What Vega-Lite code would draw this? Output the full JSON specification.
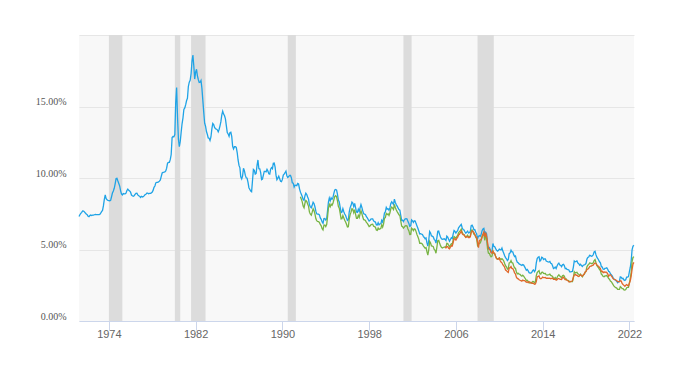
{
"$schema":"https://vega.github.io/schema/vega-lite/v6.json",
"width":555,"height":286,
"autosize":"none",
"padding":{"left":79,"top":35,"right":62,"bottom":53},
"background":"#ffffff",
"config":{"view":{"fill":"#f8f8f8","stroke":null}},
"datasets":{
"rec":[{"s":"1974-01","e":"1975-04"},{"s":"1980-02","e":"1980-08"},{"s":"1981-08","e":"1982-12"},{"s":"1990-07","e":"1991-04"},{"s":"2001-03","e":"2001-12"},{"s":"2008-01","e":"2009-07"}],
"f30":[
{"d":"1971-04","v":7.31},{"d":"1971-05","v":7.43},{"d":"1971-06","v":7.53},{"d":"1971-07","v":7.60},{"d":"1971-08","v":7.70},{"d":"1971-09","v":7.69},{"d":"1971-10","v":7.63},{"d":"1971-11","v":7.55},{"d":"1971-12","v":7.48},
{"d":"1972-01","v":7.44},{"d":"1972-02","v":7.32},{"d":"1972-03","v":7.29},{"d":"1972-04","v":7.37},{"d":"1972-05","v":7.41},{"d":"1972-06","v":7.38},{"d":"1972-07","v":7.40},{"d":"1972-08","v":7.40},{"d":"1972-09","v":7.43},{"d":"1972-10","v":7.45},{"d":"1972-11","v":7.44},{"d":"1972-12","v":7.44},
{"d":"1973-01","v":7.44},{"d":"1973-02","v":7.44},{"d":"1973-03","v":7.46},{"d":"1973-04","v":7.54},{"d":"1973-05","v":7.65},{"d":"1973-06","v":7.73},{"d":"1973-07","v":8.05},{"d":"1973-08","v":8.50},{"d":"1973-09","v":8.82},{"d":"1973-10","v":8.56},{"d":"1973-11","v":8.48},{"d":"1973-12","v":8.44},
{"d":"1974-01","v":8.42},{"d":"1974-02","v":8.40},{"d":"1974-03","v":8.44},{"d":"1974-04","v":8.69},{"d":"1974-05","v":8.95},{"d":"1974-06","v":9.09},{"d":"1974-07","v":9.28},{"d":"1974-08","v":9.59},{"d":"1974-09","v":9.96},{"d":"1974-10","v":9.98},{"d":"1974-11","v":9.79},{"d":"1974-12","v":9.62},
{"d":"1975-01","v":9.43},{"d":"1975-02","v":9.10},{"d":"1975-03","v":8.89},{"d":"1975-04","v":8.82},{"d":"1975-05","v":8.91},{"d":"1975-06","v":8.89},{"d":"1975-07","v":8.89},{"d":"1975-08","v":8.94},{"d":"1975-09","v":9.13},{"d":"1975-10","v":9.22},{"d":"1975-11","v":9.14},{"d":"1975-12","v":9.10},
{"d":"1976-01","v":9.02},{"d":"1976-02","v":8.81},{"d":"1976-03","v":8.76},{"d":"1976-04","v":8.73},{"d":"1976-05","v":8.76},{"d":"1976-06","v":8.85},{"d":"1976-07","v":8.93},{"d":"1976-08","v":8.94},{"d":"1976-09","v":8.82},{"d":"1976-10","v":8.76},{"d":"1976-11","v":8.73},{"d":"1976-12","v":8.64},
{"d":"1977-01","v":8.72},{"d":"1977-02","v":8.67},{"d":"1977-03","v":8.69},{"d":"1977-04","v":8.75},{"d":"1977-05","v":8.83},{"d":"1977-06","v":8.86},{"d":"1977-07","v":8.94},{"d":"1977-08","v":8.94},{"d":"1977-09","v":8.90},{"d":"1977-10","v":8.92},{"d":"1977-11","v":8.92},{"d":"1977-12","v":8.96},
{"d":"1978-01","v":9.02},{"d":"1978-02","v":9.15},{"d":"1978-03","v":9.35},{"d":"1978-04","v":9.44},{"d":"1978-05","v":9.66},{"d":"1978-06","v":9.70},{"d":"1978-07","v":9.70},{"d":"1978-08","v":9.73},{"d":"1978-09","v":9.78},{"d":"1978-10","v":9.86},{"d":"1978-11","v":10.11},{"d":"1978-12","v":10.35},
{"d":"1979-01","v":10.39},{"d":"1979-02","v":10.41},{"d":"1979-03","v":10.43},{"d":"1979-04","v":10.50},{"d":"1979-05","v":10.69},{"d":"1979-06","v":11.04},{"d":"1979-07","v":11.09},{"d":"1979-08","v":11.09},{"d":"1979-09","v":11.30},{"d":"1979-10","v":11.64},{"d":"1979-11","v":12.83},{"d":"1979-12","v":12.90},
{"d":"1980-01","v":12.88},{"d":"1980-02","v":13.04},{"d":"1980-03","v":15.28},{"d":"1980-04","v":16.32},{"d":"1980-05","v":14.26},{"d":"1980-06","v":12.71},{"d":"1980-07","v":12.19},{"d":"1980-08","v":12.56},{"d":"1980-09","v":13.20},{"d":"1980-10","v":13.79},{"d":"1980-11","v":14.21},{"d":"1980-12","v":14.79},
{"d":"1981-01","v":14.90},{"d":"1981-02","v":15.13},{"d":"1981-03","v":15.40},{"d":"1981-04","v":15.58},{"d":"1981-05","v":16.40},{"d":"1981-06","v":16.70},{"d":"1981-07","v":16.83},{"d":"1981-08","v":17.29},{"d":"1981-09","v":18.16},{"d":"1981-10","v":18.60},{"d":"1981-11","v":17.83},{"d":"1981-12","v":16.92},
{"d":"1982-01","v":17.40},{"d":"1982-02","v":17.60},{"d":"1982-03","v":17.16},{"d":"1982-04","v":16.89},{"d":"1982-05","v":16.68},{"d":"1982-06","v":16.70},{"d":"1982-07","v":16.82},{"d":"1982-08","v":16.27},{"d":"1982-09","v":15.43},{"d":"1982-10","v":14.61},{"d":"1982-11","v":13.83},{"d":"1982-12","v":13.62},
{"d":"1983-01","v":13.25},{"d":"1983-02","v":13.04},{"d":"1983-03","v":12.80},{"d":"1983-04","v":12.78},{"d":"1983-05","v":12.63},{"d":"1983-06","v":12.87},{"d":"1983-07","v":13.42},{"d":"1983-08","v":13.81},{"d":"1983-09","v":13.73},{"d":"1983-10","v":13.54},{"d":"1983-11","v":13.44},{"d":"1983-12","v":13.42},
{"d":"1984-01","v":13.37},{"d":"1984-02","v":13.23},{"d":"1984-03","v":13.39},{"d":"1984-04","v":13.65},{"d":"1984-05","v":13.94},{"d":"1984-06","v":14.42},{"d":"1984-07","v":14.67},{"d":"1984-08","v":14.47},{"d":"1984-09","v":14.35},{"d":"1984-10","v":14.13},{"d":"1984-11","v":13.64},{"d":"1984-12","v":13.18},
{"d":"1985-01","v":13.08},{"d":"1985-02","v":12.92},{"d":"1985-03","v":13.17},{"d":"1985-04","v":13.20},{"d":"1985-05","v":12.91},{"d":"1985-06","v":12.22},{"d":"1985-07","v":12.03},{"d":"1985-08","v":12.19},{"d":"1985-09","v":12.19},{"d":"1985-10","v":12.14},{"d":"1985-11","v":11.78},{"d":"1985-12","v":11.26},
{"d":"1986-01","v":10.88},{"d":"1986-02","v":10.71},{"d":"1986-03","v":10.08},{"d":"1986-04","v":9.94},{"d":"1986-05","v":10.14},{"d":"1986-06","v":10.68},{"d":"1986-07","v":10.51},{"d":"1986-08","v":10.20},{"d":"1986-09","v":10.01},{"d":"1986-10","v":9.98},{"d":"1986-11","v":9.70},{"d":"1986-12","v":9.32},
{"d":"1987-01","v":9.20},{"d":"1987-02","v":9.08},{"d":"1987-03","v":9.04},{"d":"1987-04","v":9.83},{"d":"1987-05","v":10.60},{"d":"1987-06","v":10.54},{"d":"1987-07","v":10.28},{"d":"1987-08","v":10.33},{"d":"1987-09","v":10.89},{"d":"1987-10","v":11.26},{"d":"1987-11","v":10.65},{"d":"1987-12","v":10.64},
{"d":"1988-01","v":10.38},{"d":"1988-02","v":9.89},{"d":"1988-03","v":9.93},{"d":"1988-04","v":10.20},{"d":"1988-05","v":10.46},{"d":"1988-06","v":10.46},{"d":"1988-07","v":10.43},{"d":"1988-08","v":10.60},{"d":"1988-09","v":10.48},{"d":"1988-10","v":10.30},{"d":"1988-11","v":10.27},{"d":"1988-12","v":10.61},
{"d":"1989-01","v":10.73},{"d":"1989-02","v":10.65},{"d":"1989-03","v":11.03},{"d":"1989-04","v":11.05},{"d":"1989-05","v":10.77},{"d":"1989-06","v":10.20},{"d":"1989-07","v":9.88},{"d":"1989-08","v":9.99},{"d":"1989-09","v":10.13},{"d":"1989-10","v":9.95},{"d":"1989-11","v":9.77},{"d":"1989-12","v":9.74},
{"d":"1990-01","v":9.90},{"d":"1990-02","v":10.20},{"d":"1990-03","v":10.27},{"d":"1990-04","v":10.37},{"d":"1990-05","v":10.48},{"d":"1990-06","v":10.16},{"d":"1990-07","v":10.04},{"d":"1990-08","v":10.10},{"d":"1990-09","v":10.18},{"d":"1990-10","v":10.18},{"d":"1990-11","v":10.01},{"d":"1990-12","v":9.67},
{"d":"1991-01","v":9.64},{"d":"1991-02","v":9.37},{"d":"1991-03","v":9.50},{"d":"1991-04","v":9.49},{"d":"1991-05","v":9.47},{"d":"1991-06","v":9.62},{"d":"1991-07","v":9.58},{"d":"1991-08","v":9.24},{"d":"1991-09","v":9.01},{"d":"1991-10","v":8.86},{"d":"1991-11","v":8.71},{"d":"1991-12","v":8.50},
{"d":"1992-01","v":8.43},{"d":"1992-02","v":8.76},{"d":"1992-03","v":8.94},{"d":"1992-04","v":8.85},{"d":"1992-05","v":8.67},{"d":"1992-06","v":8.51},{"d":"1992-07","v":8.13},{"d":"1992-08","v":7.98},{"d":"1992-09","v":7.92},{"d":"1992-10","v":8.09},{"d":"1992-11","v":8.31},{"d":"1992-12","v":8.22},
{"d":"1993-01","v":7.99},{"d":"1993-02","v":7.68},{"d":"1993-03","v":7.50},{"d":"1993-04","v":7.47},{"d":"1993-05","v":7.47},{"d":"1993-06","v":7.42},{"d":"1993-07","v":7.21},{"d":"1993-08","v":7.11},{"d":"1993-09","v":6.92},{"d":"1993-10","v":6.83},{"d":"1993-11","v":7.16},{"d":"1993-12","v":7.17},
{"d":"1994-01","v":7.06},{"d":"1994-02","v":7.15},{"d":"1994-03","v":7.68},{"d":"1994-04","v":8.32},{"d":"1994-05","v":8.60},{"d":"1994-06","v":8.40},{"d":"1994-07","v":8.61},{"d":"1994-08","v":8.51},{"d":"1994-09","v":8.64},{"d":"1994-10","v":8.93},{"d":"1994-11","v":9.17},{"d":"1994-12","v":9.20},
{"d":"1995-01","v":9.15},{"d":"1995-02","v":8.83},{"d":"1995-03","v":8.46},{"d":"1995-04","v":8.32},{"d":"1995-05","v":7.96},{"d":"1995-06","v":7.57},{"d":"1995-07","v":7.61},{"d":"1995-08","v":7.86},{"d":"1995-09","v":7.64},{"d":"1995-10","v":7.48},{"d":"1995-11","v":7.38},{"d":"1995-12","v":7.20},
{"d":"1996-01","v":7.03},{"d":"1996-02","v":7.08},{"d":"1996-03","v":7.62},{"d":"1996-04","v":7.93},{"d":"1996-05","v":8.07},{"d":"1996-06","v":8.32},{"d":"1996-07","v":8.25},{"d":"1996-08","v":8.00},{"d":"1996-09","v":8.23},{"d":"1996-10","v":7.92},{"d":"1996-11","v":7.62},{"d":"1996-12","v":7.60},
{"d":"1997-01","v":7.82},{"d":"1997-02","v":7.65},{"d":"1997-03","v":7.90},{"d":"1997-04","v":8.14},{"d":"1997-05","v":7.94},{"d":"1997-06","v":7.69},{"d":"1997-07","v":7.50},{"d":"1997-08","v":7.48},{"d":"1997-09","v":7.43},{"d":"1997-10","v":7.29},{"d":"1997-11","v":7.21},{"d":"1997-12","v":7.10},
{"d":"1998-01","v":6.99},{"d":"1998-02","v":7.04},{"d":"1998-03","v":7.13},{"d":"1998-04","v":7.14},{"d":"1998-05","v":7.14},{"d":"1998-06","v":7.00},{"d":"1998-07","v":6.95},{"d":"1998-08","v":6.92},{"d":"1998-09","v":6.72},{"d":"1998-10","v":6.71},{"d":"1998-11","v":6.87},{"d":"1998-12","v":6.72},
{"d":"1999-01","v":6.79},{"d":"1999-02","v":6.81},{"d":"1999-03","v":7.04},{"d":"1999-04","v":6.92},{"d":"1999-05","v":7.15},{"d":"1999-06","v":7.55},{"d":"1999-07","v":7.63},{"d":"1999-08","v":7.94},{"d":"1999-09","v":7.82},{"d":"1999-10","v":7.85},{"d":"1999-11","v":7.74},{"d":"1999-12","v":7.91},
{"d":"2000-01","v":8.21},{"d":"2000-02","v":8.33},{"d":"2000-03","v":8.24},{"d":"2000-04","v":8.15},{"d":"2000-05","v":8.52},{"d":"2000-06","v":8.29},{"d":"2000-07","v":8.15},{"d":"2000-08","v":8.03},{"d":"2000-09","v":7.91},{"d":"2000-10","v":7.80},{"d":"2000-11","v":7.75},{"d":"2000-12","v":7.38},
{"d":"2001-01","v":7.03},{"d":"2001-02","v":7.05},{"d":"2001-03","v":6.95},{"d":"2001-04","v":7.08},{"d":"2001-05","v":7.15},{"d":"2001-06","v":7.16},{"d":"2001-07","v":7.13},{"d":"2001-08","v":6.95},{"d":"2001-09","v":6.82},{"d":"2001-10","v":6.62},{"d":"2001-11","v":6.66},{"d":"2001-12","v":7.07},
{"d":"2002-01","v":7.00},{"d":"2002-02","v":6.89},{"d":"2002-03","v":7.01},{"d":"2002-04","v":6.99},{"d":"2002-05","v":6.81},{"d":"2002-06","v":6.65},{"d":"2002-07","v":6.49},{"d":"2002-08","v":6.29},{"d":"2002-09","v":6.09},{"d":"2002-10","v":6.11},{"d":"2002-11","v":6.07},{"d":"2002-12","v":6.05},
{"d":"2003-01","v":5.92},{"d":"2003-02","v":5.84},{"d":"2003-03","v":5.75},{"d":"2003-04","v":5.81},{"d":"2003-05","v":5.48},{"d":"2003-06","v":5.23},{"d":"2003-07","v":5.63},{"d":"2003-08","v":6.26},{"d":"2003-09","v":6.15},{"d":"2003-10","v":5.95},{"d":"2003-11","v":5.93},{"d":"2003-12","v":5.88},
{"d":"2004-01","v":5.71},{"d":"2004-02","v":5.64},{"d":"2004-03","v":5.45},{"d":"2004-04","v":5.83},{"d":"2004-05","v":6.27},{"d":"2004-06","v":6.29},{"d":"2004-07","v":6.06},{"d":"2004-08","v":5.87},{"d":"2004-09","v":5.75},{"d":"2004-10","v":5.72},{"d":"2004-11","v":5.73},{"d":"2004-12","v":5.75},
{"d":"2005-01","v":5.71},{"d":"2005-02","v":5.63},{"d":"2005-03","v":5.93},{"d":"2005-04","v":5.86},{"d":"2005-05","v":5.72},{"d":"2005-06","v":5.58},{"d":"2005-07","v":5.70},{"d":"2005-08","v":5.82},{"d":"2005-09","v":5.77},{"d":"2005-10","v":6.07},{"d":"2005-11","v":6.33},{"d":"2005-12","v":6.27},
{"d":"2006-01","v":6.15},{"d":"2006-02","v":6.25},{"d":"2006-03","v":6.32},{"d":"2006-04","v":6.51},{"d":"2006-05","v":6.60},{"d":"2006-06","v":6.68},{"d":"2006-07","v":6.76},{"d":"2006-08","v":6.52},{"d":"2006-09","v":6.40},{"d":"2006-10","v":6.36},{"d":"2006-11","v":6.24},{"d":"2006-12","v":6.14},
{"d":"2007-01","v":6.22},{"d":"2007-02","v":6.29},{"d":"2007-03","v":6.16},{"d":"2007-04","v":6.18},{"d":"2007-05","v":6.26},{"d":"2007-06","v":6.66},{"d":"2007-07","v":6.70},{"d":"2007-08","v":6.57},{"d":"2007-09","v":6.38},{"d":"2007-10","v":6.38},{"d":"2007-11","v":6.21},{"d":"2007-12","v":6.10},
{"d":"2008-01","v":5.76},{"d":"2008-02","v":5.92},{"d":"2008-03","v":5.97},{"d":"2008-04","v":5.92},{"d":"2008-05","v":6.04},{"d":"2008-06","v":6.32},{"d":"2008-07","v":6.43},{"d":"2008-08","v":6.48},{"d":"2008-09","v":6.04},{"d":"2008-10","v":6.20},{"d":"2008-11","v":6.09},{"d":"2008-12","v":5.29},
{"d":"2009-01","v":5.06},{"d":"2009-02","v":5.13},{"d":"2009-03","v":5.00},{"d":"2009-04","v":4.81},{"d":"2009-05","v":4.86},{"d":"2009-06","v":5.42},{"d":"2009-07","v":5.22},{"d":"2009-08","v":5.19},{"d":"2009-09","v":5.06},{"d":"2009-10","v":4.95},{"d":"2009-11","v":4.88},{"d":"2009-12","v":4.93},
{"d":"2010-01","v":5.03},{"d":"2010-02","v":4.99},{"d":"2010-03","v":4.97},{"d":"2010-04","v":5.10},{"d":"2010-05","v":4.89},{"d":"2010-06","v":4.74},{"d":"2010-07","v":4.56},{"d":"2010-08","v":4.43},{"d":"2010-09","v":4.35},{"d":"2010-10","v":4.23},{"d":"2010-11","v":4.30},{"d":"2010-12","v":4.71},
{"d":"2011-01","v":4.76},{"d":"2011-02","v":4.95},{"d":"2011-03","v":4.84},{"d":"2011-04","v":4.84},{"d":"2011-05","v":4.64},{"d":"2011-06","v":4.51},{"d":"2011-07","v":4.55},{"d":"2011-08","v":4.27},{"d":"2011-09","v":4.11},{"d":"2011-10","v":4.07},{"d":"2011-11","v":3.99},{"d":"2011-12","v":3.96},
{"d":"2012-01","v":3.92},{"d":"2012-02","v":3.89},{"d":"2012-03","v":3.95},{"d":"2012-04","v":3.91},{"d":"2012-05","v":3.80},{"d":"2012-06","v":3.68},{"d":"2012-07","v":3.55},{"d":"2012-08","v":3.60},{"d":"2012-09","v":3.50},{"d":"2012-10","v":3.38},{"d":"2012-11","v":3.35},{"d":"2012-12","v":3.35},
{"d":"2013-01","v":3.41},{"d":"2013-02","v":3.53},{"d":"2013-03","v":3.57},{"d":"2013-04","v":3.45},{"d":"2013-05","v":3.54},{"d":"2013-06","v":4.07},{"d":"2013-07","v":4.37},{"d":"2013-08","v":4.46},{"d":"2013-09","v":4.49},{"d":"2013-10","v":4.19},{"d":"2013-11","v":4.26},{"d":"2013-12","v":4.46},
{"d":"2014-01","v":4.43},{"d":"2014-02","v":4.30},{"d":"2014-03","v":4.34},{"d":"2014-04","v":4.34},{"d":"2014-05","v":4.19},{"d":"2014-06","v":4.16},{"d":"2014-07","v":4.13},{"d":"2014-08","v":4.12},{"d":"2014-09","v":4.16},{"d":"2014-10","v":4.04},{"d":"2014-11","v":4.00},{"d":"2014-12","v":3.86},
{"d":"2015-01","v":3.67},{"d":"2015-02","v":3.71},{"d":"2015-03","v":3.77},{"d":"2015-04","v":3.67},{"d":"2015-05","v":3.84},{"d":"2015-06","v":3.98},{"d":"2015-07","v":4.05},{"d":"2015-08","v":3.91},{"d":"2015-09","v":3.89},{"d":"2015-10","v":3.80},{"d":"2015-11","v":3.94},{"d":"2015-12","v":3.96},
{"d":"2016-01","v":3.87},{"d":"2016-02","v":3.66},{"d":"2016-03","v":3.69},{"d":"2016-04","v":3.61},{"d":"2016-05","v":3.60},{"d":"2016-06","v":3.57},{"d":"2016-07","v":3.44},{"d":"2016-08","v":3.44},{"d":"2016-09","v":3.46},{"d":"2016-10","v":3.47},{"d":"2016-11","v":3.77},{"d":"2016-12","v":4.20},
{"d":"2017-01","v":4.15},{"d":"2017-02","v":4.17},{"d":"2017-03","v":4.20},{"d":"2017-04","v":4.05},{"d":"2017-05","v":4.01},{"d":"2017-06","v":3.90},{"d":"2017-07","v":3.97},{"d":"2017-08","v":3.88},{"d":"2017-09","v":3.81},{"d":"2017-10","v":3.90},{"d":"2017-11","v":3.92},{"d":"2017-12","v":3.95},
{"d":"2018-01","v":4.03},{"d":"2018-02","v":4.33},{"d":"2018-03","v":4.44},{"d":"2018-04","v":4.47},{"d":"2018-05","v":4.59},{"d":"2018-06","v":4.57},{"d":"2018-07","v":4.53},{"d":"2018-08","v":4.55},{"d":"2018-09","v":4.63},{"d":"2018-10","v":4.83},{"d":"2018-11","v":4.87},{"d":"2018-12","v":4.64},
{"d":"2019-01","v":4.46},{"d":"2019-02","v":4.37},{"d":"2019-03","v":4.27},{"d":"2019-04","v":4.14},{"d":"2019-05","v":4.07},{"d":"2019-06","v":3.80},{"d":"2019-07","v":3.77},{"d":"2019-08","v":3.62},{"d":"2019-09","v":3.61},{"d":"2019-10","v":3.69},{"d":"2019-11","v":3.70},{"d":"2019-12","v":3.72},
{"d":"2020-01","v":3.62},{"d":"2020-02","v":3.47},{"d":"2020-03","v":3.45},{"d":"2020-04","v":3.31},{"d":"2020-05","v":3.23},{"d":"2020-06","v":3.16},{"d":"2020-07","v":3.02},{"d":"2020-08","v":2.94},{"d":"2020-09","v":2.89},{"d":"2020-10","v":2.83},{"d":"2020-11","v":2.77},{"d":"2020-12","v":2.68},
{"d":"2021-01","v":2.74},{"d":"2021-02","v":2.81},{"d":"2021-03","v":3.08},{"d":"2021-04","v":3.06},{"d":"2021-05","v":2.96},{"d":"2021-06","v":2.98},{"d":"2021-07","v":2.87},{"d":"2021-08","v":2.84},{"d":"2021-09","v":2.90},{"d":"2021-10","v":3.07},{"d":"2021-11","v":3.07},{"d":"2021-12","v":3.10},
{"d":"2022-01","v":3.45},{"d":"2022-02","v":3.76},{"d":"2022-03","v":4.17},{"d":"2022-04","v":4.98},{"d":"2022-05","v":5.23},{"d":"2022-06","v":5.30}
],
"f15":[
{"d":"1991-09","v":8.69},{"d":"1991-10","v":8.52},{"d":"1991-11","v":8.33},{"d":"1991-12","v":8.04},
{"d":"1992-01","v":7.92},{"d":"1992-02","v":8.25},{"d":"1992-03","v":8.43},{"d":"1992-04","v":8.36},{"d":"1992-05","v":8.18},{"d":"1992-06","v":8.02},{"d":"1992-07","v":7.61},{"d":"1992-08","v":7.47},{"d":"1992-09","v":7.40},{"d":"1992-10","v":7.61},{"d":"1992-11","v":7.85},{"d":"1992-12","v":7.72},
{"d":"1993-01","v":7.49},{"d":"1993-02","v":7.16},{"d":"1993-03","v":7.02},{"d":"1993-04","v":6.96},{"d":"1993-05","v":6.95},{"d":"1993-06","v":6.89},{"d":"1993-07","v":6.75},{"d":"1993-08","v":6.65},{"d":"1993-09","v":6.46},{"d":"1993-10","v":6.37},{"d":"1993-11","v":6.70},{"d":"1993-12","v":6.72},
{"d":"1994-01","v":6.61},{"d":"1994-02","v":6.75},{"d":"1994-03","v":7.26},{"d":"1994-04","v":7.90},{"d":"1994-05","v":8.15},{"d":"1994-06","v":7.99},{"d":"1994-07","v":8.17},{"d":"1994-08","v":8.09},{"d":"1994-09","v":8.23},{"d":"1994-10","v":8.48},{"d":"1994-11","v":8.71},{"d":"1994-12","v":8.76},
{"d":"1995-01","v":8.68},{"d":"1995-02","v":8.39},{"d":"1995-03","v":8.02},{"d":"1995-04","v":7.89},{"d":"1995-05","v":7.54},{"d":"1995-06","v":7.14},{"d":"1995-07","v":7.16},{"d":"1995-08","v":7.38},{"d":"1995-09","v":7.21},{"d":"1995-10","v":7.04},{"d":"1995-11","v":6.92},{"d":"1995-12","v":6.76},
{"d":"1996-01","v":6.57},{"d":"1996-02","v":6.59},{"d":"1996-03","v":7.12},{"d":"1996-04","v":7.44},{"d":"1996-05","v":7.61},{"d":"1996-06","v":7.85},{"d":"1996-07","v":7.80},{"d":"1996-08","v":7.57},{"d":"1996-09","v":7.79},{"d":"1996-10","v":7.48},{"d":"1996-11","v":7.18},{"d":"1996-12","v":7.18},
{"d":"1997-01","v":7.39},{"d":"1997-02","v":7.24},{"d":"1997-03","v":7.48},{"d":"1997-04","v":7.71},{"d":"1997-05","v":7.52},{"d":"1997-06","v":7.27},{"d":"1997-07","v":7.08},{"d":"1997-08","v":7.07},{"d":"1997-09","v":7.01},{"d":"1997-10","v":6.89},{"d":"1997-11","v":6.83},{"d":"1997-12","v":6.72},
{"d":"1998-01","v":6.61},{"d":"1998-02","v":6.65},{"d":"1998-03","v":6.73},{"d":"1998-04","v":6.75},{"d":"1998-05","v":6.76},{"d":"1998-06","v":6.63},{"d":"1998-07","v":6.60},{"d":"1998-08","v":6.56},{"d":"1998-09","v":6.36},{"d":"1998-10","v":6.33},{"d":"1998-11","v":6.50},{"d":"1998-12","v":6.40},
{"d":"1999-01","v":6.44},{"d":"1999-02","v":6.48},{"d":"1999-03","v":6.72},{"d":"1999-04","v":6.57},{"d":"1999-05","v":6.77},{"d":"1999-06","v":7.18},{"d":"1999-07","v":7.23},{"d":"1999-08","v":7.52},{"d":"1999-09","v":7.44},{"d":"1999-10","v":7.50},{"d":"1999-11","v":7.38},{"d":"1999-12","v":7.55},
{"d":"2000-01","v":7.85},{"d":"2000-02","v":7.97},{"d":"2000-03","v":7.90},{"d":"2000-04","v":7.80},{"d":"2000-05","v":8.16},{"d":"2000-06","v":7.94},{"d":"2000-07","v":7.78},{"d":"2000-08","v":7.65},{"d":"2000-09","v":7.54},{"d":"2000-10","v":7.43},{"d":"2000-11","v":7.38},{"d":"2000-12","v":7.00},
{"d":"2001-01","v":6.64},{"d":"2001-02","v":6.60},{"d":"2001-03","v":6.50},{"d":"2001-04","v":6.57},{"d":"2001-05","v":6.65},{"d":"2001-06","v":6.67},{"d":"2001-07","v":6.64},{"d":"2001-08","v":6.44},{"d":"2001-09","v":6.30},{"d":"2001-10","v":6.05},{"d":"2001-11","v":6.06},{"d":"2001-12","v":6.49},
{"d":"2002-01","v":6.43},{"d":"2002-02","v":6.32},{"d":"2002-03","v":6.44},{"d":"2002-04","v":6.42},{"d":"2002-05","v":6.25},{"d":"2002-06","v":6.04},{"d":"2002-07","v":5.89},{"d":"2002-08","v":5.71},{"d":"2002-09","v":5.44},{"d":"2002-10","v":5.45},{"d":"2002-11","v":5.43},{"d":"2002-12","v":5.37},
{"d":"2003-01","v":5.26},{"d":"2003-02","v":5.17},{"d":"2003-03","v":5.09},{"d":"2003-04","v":5.13},{"d":"2003-05","v":4.86},{"d":"2003-06","v":4.61},{"d":"2003-07","v":4.96},{"d":"2003-08","v":5.57},{"d":"2003-09","v":5.45},{"d":"2003-10","v":5.25},{"d":"2003-11","v":5.24},{"d":"2003-12","v":5.20},
{"d":"2004-01","v":5.01},{"d":"2004-02","v":4.94},{"d":"2004-03","v":4.74},{"d":"2004-04","v":5.16},{"d":"2004-05","v":5.62},{"d":"2004-06","v":5.64},{"d":"2004-07","v":5.45},{"d":"2004-08","v":5.27},{"d":"2004-09","v":5.15},{"d":"2004-10","v":5.11},{"d":"2004-11","v":5.15},{"d":"2004-12","v":5.16},
{"d":"2005-01","v":5.18},{"d":"2005-02","v":5.17},{"d":"2005-03","v":5.43},{"d":"2005-04","v":5.41},{"d":"2005-05","v":5.30},{"d":"2005-06","v":5.19},{"d":"2005-07","v":5.31},{"d":"2005-08","v":5.40},{"d":"2005-09","v":5.38},{"d":"2005-10","v":5.66},{"d":"2005-11","v":5.90},{"d":"2005-12","v":5.86},
{"d":"2006-01","v":5.79},{"d":"2006-02","v":5.90},{"d":"2006-03","v":5.98},{"d":"2006-04","v":6.17},{"d":"2006-05","v":6.25},{"d":"2006-06","v":6.32},{"d":"2006-07","v":6.42},{"d":"2006-08","v":6.20},{"d":"2006-09","v":6.07},{"d":"2006-10","v":6.04},{"d":"2006-11","v":5.94},{"d":"2006-12","v":5.86},
{"d":"2007-01","v":5.93},{"d":"2007-02","v":6.00},{"d":"2007-03","v":5.88},{"d":"2007-04","v":5.89},{"d":"2007-05","v":5.94},{"d":"2007-06","v":6.33},{"d":"2007-07","v":6.37},{"d":"2007-08","v":6.24},{"d":"2007-09","v":6.07},{"d":"2007-10","v":6.04},{"d":"2007-11","v":5.86},{"d":"2007-12","v":5.75},
{"d":"2008-01","v":5.27},{"d":"2008-02","v":5.36},{"d":"2008-03","v":5.43},{"d":"2008-04","v":5.45},{"d":"2008-05","v":5.63},{"d":"2008-06","v":5.92},{"d":"2008-07","v":6.04},{"d":"2008-08","v":6.02},{"d":"2008-09","v":5.63},{"d":"2008-10","v":5.95},{"d":"2008-11","v":5.80},{"d":"2008-12","v":5.08},
{"d":"2009-01","v":4.74},{"d":"2009-02","v":4.73},{"d":"2009-03","v":4.59},{"d":"2009-04","v":4.49},{"d":"2009-05","v":4.53},{"d":"2009-06","v":4.89},{"d":"2009-07","v":4.74},{"d":"2009-08","v":4.69},{"d":"2009-09","v":4.52},{"d":"2009-10","v":4.37},{"d":"2009-11","v":4.32},{"d":"2009-12","v":4.36},
{"d":"2010-01","v":4.42},{"d":"2010-02","v":4.36},{"d":"2010-03","v":4.30},{"d":"2010-04","v":4.36},{"d":"2010-05","v":4.29},{"d":"2010-06","v":4.20},{"d":"2010-07","v":4.02},{"d":"2010-08","v":3.86},{"d":"2010-09","v":3.79},{"d":"2010-10","v":3.63},{"d":"2010-11","v":3.65},{"d":"2010-12","v":4.06},
{"d":"2011-01","v":4.09},{"d":"2011-02","v":4.22},{"d":"2011-03","v":4.08},{"d":"2011-04","v":4.06},{"d":"2011-05","v":3.86},{"d":"2011-06","v":3.71},{"d":"2011-07","v":3.69},{"d":"2011-08","v":3.43},{"d":"2011-09","v":3.30},{"d":"2011-10","v":3.33},{"d":"2011-11","v":3.28},{"d":"2011-12","v":3.26},
{"d":"2012-01","v":3.18},{"d":"2012-02","v":3.14},{"d":"2012-03","v":3.20},{"d":"2012-04","v":3.14},{"d":"2012-05","v":3.04},{"d":"2012-06","v":2.94},{"d":"2012-07","v":2.83},{"d":"2012-08","v":2.85},{"d":"2012-09","v":2.77},{"d":"2012-10","v":2.68},{"d":"2012-11","v":2.65},{"d":"2012-12","v":2.66},
{"d":"2013-01","v":2.70},{"d":"2013-02","v":2.77},{"d":"2013-03","v":2.75},{"d":"2013-04","v":2.67},{"d":"2013-05","v":2.73},{"d":"2013-06","v":3.18},{"d":"2013-07","v":3.39},{"d":"2013-08","v":3.47},{"d":"2013-09","v":3.52},{"d":"2013-10","v":3.29},{"d":"2013-11","v":3.28},{"d":"2013-12","v":3.41},
{"d":"2014-01","v":3.42},{"d":"2014-02","v":3.33},{"d":"2014-03","v":3.32},{"d":"2014-04","v":3.32},{"d":"2014-05","v":3.23},{"d":"2014-06","v":3.21},{"d":"2014-07","v":3.23},{"d":"2014-08","v":3.24},{"d":"2014-09","v":3.28},{"d":"2014-10","v":3.19},{"d":"2014-11","v":3.16},{"d":"2014-12","v":3.12},
{"d":"2015-01","v":2.98},{"d":"2015-02","v":2.97},{"d":"2015-03","v":3.04},{"d":"2015-04","v":2.94},{"d":"2015-05","v":3.04},{"d":"2015-06","v":3.16},{"d":"2015-07","v":3.23},{"d":"2015-08","v":3.14},{"d":"2015-09","v":3.09},{"d":"2015-10","v":3.02},{"d":"2015-11","v":3.16},{"d":"2015-12","v":3.20},
{"d":"2016-01","v":3.14},{"d":"2016-02","v":2.96},{"d":"2016-03","v":2.95},{"d":"2016-04","v":2.85},{"d":"2016-05","v":2.84},{"d":"2016-06","v":2.81},{"d":"2016-07","v":2.74},{"d":"2016-08","v":2.77},{"d":"2016-09","v":2.76},{"d":"2016-10","v":2.76},{"d":"2016-11","v":3.02},{"d":"2016-12","v":3.44},
{"d":"2017-01","v":3.36},{"d":"2017-02","v":3.39},{"d":"2017-03","v":3.41},{"d":"2017-04","v":3.30},{"d":"2017-05","v":3.27},{"d":"2017-06","v":3.18},{"d":"2017-07","v":3.27},{"d":"2017-08","v":3.17},{"d":"2017-09","v":3.09},{"d":"2017-10","v":3.20},{"d":"2017-11","v":3.27},{"d":"2017-12","v":3.38},
{"d":"2018-01","v":3.50},{"d":"2018-02","v":3.79},{"d":"2018-03","v":3.90},{"d":"2018-04","v":3.94},{"d":"2018-05","v":4.06},{"d":"2018-06","v":4.04},{"d":"2018-07","v":4.02},{"d":"2018-08","v":4.01},{"d":"2018-09","v":4.08},{"d":"2018-10","v":4.23},{"d":"2018-11","v":4.30},{"d":"2018-12","v":4.09},
{"d":"2019-01","v":3.89},{"d":"2019-02","v":3.78},{"d":"2019-03","v":3.71},{"d":"2019-04","v":3.60},{"d":"2019-05","v":3.53},{"d":"2019-06","v":3.28},{"d":"2019-07","v":3.22},{"d":"2019-08","v":3.11},{"d":"2019-09","v":3.09},{"d":"2019-10","v":3.15},{"d":"2019-11","v":3.15},{"d":"2019-12","v":3.19},
{"d":"2020-01","v":3.09},{"d":"2020-02","v":2.97},{"d":"2020-03","v":2.92},{"d":"2020-04","v":2.79},{"d":"2020-05","v":2.75},{"d":"2020-06","v":2.65},{"d":"2020-07","v":2.54},{"d":"2020-08","v":2.44},{"d":"2020-09","v":2.37},{"d":"2020-10","v":2.33},{"d":"2020-11","v":2.30},{"d":"2020-12","v":2.21},
{"d":"2021-01","v":2.21},{"d":"2021-02","v":2.21},{"d":"2021-03","v":2.40},{"d":"2021-04","v":2.35},{"d":"2021-05","v":2.27},{"d":"2021-06","v":2.26},{"d":"2021-07","v":2.18},{"d":"2021-08","v":2.16},{"d":"2021-09","v":2.20},{"d":"2021-10","v":2.33},{"d":"2021-11","v":2.35},{"d":"2021-12","v":2.35},
{"d":"2022-01","v":2.66},{"d":"2022-02","v":2.99},{"d":"2022-03","v":3.39},{"d":"2022-04","v":4.17},{"d":"2022-05","v":4.43},{"d":"2022-06","v":4.50}
],
"arm":[
{"d":"2005-01","v":5.15},{"d":"2005-02","v":5.11},{"d":"2005-03","v":5.21},{"d":"2005-04","v":5.20},{"d":"2005-05","v":5.08},{"d":"2005-06","v":5.05},{"d":"2005-07","v":5.17},{"d":"2005-08","v":5.26},{"d":"2005-09","v":5.25},{"d":"2005-10","v":5.49},{"d":"2005-11","v":5.75},{"d":"2005-12","v":5.74},
{"d":"2006-01","v":5.66},{"d":"2006-02","v":5.78},{"d":"2006-03","v":5.85},{"d":"2006-04","v":6.02},{"d":"2006-05","v":6.07},{"d":"2006-06","v":6.17},{"d":"2006-07","v":6.29},{"d":"2006-08","v":6.11},{"d":"2006-09","v":6.04},{"d":"2006-10","v":6.02},{"d":"2006-11","v":5.94},{"d":"2006-12","v":5.85},
{"d":"2007-01","v":5.89},{"d":"2007-02","v":5.91},{"d":"2007-03","v":5.84},{"d":"2007-04","v":5.84},{"d":"2007-05","v":5.89},{"d":"2007-06","v":6.18},{"d":"2007-07","v":6.30},{"d":"2007-08","v":6.26},{"d":"2007-09","v":6.18},{"d":"2007-10","v":6.05},{"d":"2007-11","v":5.89},{"d":"2007-12","v":5.87},
{"d":"2008-01","v":5.52},{"d":"2008-02","v":5.13},{"d":"2008-03","v":5.62},{"d":"2008-04","v":5.66},{"d":"2008-05","v":5.69},{"d":"2008-06","v":5.87},{"d":"2008-07","v":6.07},{"d":"2008-08","v":6.23},{"d":"2008-09","v":5.86},{"d":"2008-10","v":6.18},{"d":"2008-11","v":5.91},{"d":"2008-12","v":5.50},
{"d":"2009-01","v":5.09},{"d":"2009-02","v":5.02},{"d":"2009-03","v":4.96},{"d":"2009-04","v":4.78},{"d":"2009-05","v":4.74},{"d":"2009-06","v":4.88},{"d":"2009-07","v":4.77},{"d":"2009-08","v":4.71},{"d":"2009-09","v":4.51},{"d":"2009-10","v":4.38},{"d":"2009-11","v":4.33},{"d":"2009-12","v":4.33},
{"d":"2010-01","v":4.40},{"d":"2010-02","v":4.21},{"d":"2010-03","v":4.12},{"d":"2010-04","v":4.07},{"d":"2010-05","v":3.94},{"d":"2010-06","v":3.85},{"d":"2010-07","v":3.76},{"d":"2010-08","v":3.56},{"d":"2010-09","v":3.52},{"d":"2010-10","v":3.45},{"d":"2010-11","v":3.40},{"d":"2010-12","v":3.71},
{"d":"2011-01","v":3.71},{"d":"2011-02","v":3.81},{"d":"2011-03","v":3.68},{"d":"2011-04","v":3.66},{"d":"2011-05","v":3.55},{"d":"2011-06","v":3.37},{"d":"2011-07","v":3.29},{"d":"2011-08","v":3.07},{"d":"2011-09","v":2.98},{"d":"2011-10","v":2.95},{"d":"2011-11","v":2.89},{"d":"2011-12","v":2.85},
{"d":"2012-01","v":2.82},{"d":"2012-02","v":2.78},{"d":"2012-03","v":2.86},{"d":"2012-04","v":2.82},{"d":"2012-05","v":2.82},{"d":"2012-06","v":2.78},{"d":"2012-07","v":2.71},{"d":"2012-08","v":2.73},{"d":"2012-09","v":2.68},{"d":"2012-10","v":2.75},{"d":"2012-11","v":2.72},{"d":"2012-12","v":2.68},
{"d":"2013-01","v":2.64},{"d":"2013-02","v":2.65},{"d":"2013-03","v":2.62},{"d":"2013-04","v":2.57},{"d":"2013-05","v":2.59},{"d":"2013-06","v":2.75},{"d":"2013-07","v":3.08},{"d":"2013-08","v":3.12},{"d":"2013-09","v":3.15},{"d":"2013-10","v":2.98},{"d":"2013-11","v":2.95},{"d":"2013-12","v":2.99},
{"d":"2014-01","v":3.07},{"d":"2014-02","v":3.04},{"d":"2014-03","v":3.03},{"d":"2014-04","v":3.04},{"d":"2014-05","v":2.99},{"d":"2014-06","v":3.00},{"d":"2014-07","v":2.99},{"d":"2014-08","v":2.98},{"d":"2014-09","v":3.00},{"d":"2014-10","v":2.96},{"d":"2014-11","v":2.98},{"d":"2014-12","v":3.00},
{"d":"2015-01","v":2.91},{"d":"2015-02","v":2.91},{"d":"2015-03","v":2.93},{"d":"2015-04","v":2.86},{"d":"2015-05","v":2.89},{"d":"2015-06","v":2.97},{"d":"2015-07","v":2.97},{"d":"2015-08","v":2.92},{"d":"2015-09","v":2.91},{"d":"2015-10","v":2.90},{"d":"2015-11","v":3.02},{"d":"2015-12","v":3.06},
{"d":"2016-01","v":2.96},{"d":"2016-02","v":2.89},{"d":"2016-03","v":2.91},{"d":"2016-04","v":2.85},{"d":"2016-05","v":2.82},{"d":"2016-06","v":2.74},{"d":"2016-07","v":2.74},{"d":"2016-08","v":2.76},{"d":"2016-09","v":2.78},{"d":"2016-10","v":2.82},{"d":"2016-11","v":3.07},{"d":"2016-12","v":3.21},
{"d":"2017-01","v":3.26},{"d":"2017-02","v":3.20},{"d":"2017-03","v":3.21},{"d":"2017-04","v":3.13},{"d":"2017-05","v":3.11},{"d":"2017-06","v":3.17},{"d":"2017-07","v":3.24},{"d":"2017-08","v":3.16},{"d":"2017-09","v":3.13},{"d":"2017-10","v":3.22},{"d":"2017-11","v":3.28},{"d":"2017-12","v":3.43},
{"d":"2018-01","v":3.46},{"d":"2018-02","v":3.60},{"d":"2018-03","v":3.63},{"d":"2018-04","v":3.68},{"d":"2018-05","v":3.80},{"d":"2018-06","v":3.84},{"d":"2018-07","v":3.84},{"d":"2018-08","v":3.89},{"d":"2018-09","v":3.91},{"d":"2018-10","v":4.01},{"d":"2018-11","v":4.06},{"d":"2018-12","v":4.03},
{"d":"2019-01","v":3.91},{"d":"2019-02","v":3.87},{"d":"2019-03","v":3.82},{"d":"2019-04","v":3.74},{"d":"2019-05","v":3.66},{"d":"2019-06","v":3.47},{"d":"2019-07","v":3.48},{"d":"2019-08","v":3.38},{"d":"2019-09","v":3.44},{"d":"2019-10","v":3.39},{"d":"2019-11","v":3.43},{"d":"2019-12","v":3.39},
{"d":"2020-01","v":3.30},{"d":"2020-02","v":3.13},{"d":"2020-03","v":3.22},{"d":"2020-04","v":3.24},{"d":"2020-05","v":3.15},{"d":"2020-06","v":3.07},{"d":"2020-07","v":2.96},{"d":"2020-08","v":2.91},{"d":"2020-09","v":2.90},{"d":"2020-10","v":2.87},{"d":"2020-11","v":2.82},{"d":"2020-12","v":2.76},
{"d":"2021-01","v":2.75},{"d":"2021-02","v":2.74},{"d":"2021-03","v":2.81},{"d":"2021-04","v":2.80},{"d":"2021-05","v":2.62},{"d":"2021-06","v":2.55},{"d":"2021-07","v":2.49},{"d":"2021-08","v":2.43},{"d":"2021-09","v":2.50},{"d":"2021-10","v":2.55},{"d":"2021-11","v":2.49},{"d":"2021-12","v":2.46},
{"d":"2022-01","v":2.64},{"d":"2022-02","v":2.82},{"d":"2022-03","v":3.14},{"d":"2022-04","v":3.61},{"d":"2022-05","v":3.98},{"d":"2022-06","v":4.10}
]
},
"layer":[
{"data":{"name":"rec"},"mark":{"type":"rect","color":"#dcdcdc"},
 "encoding":{"x":{"field":"s","type":"temporal"},"x2":{"field":"e"}}},
{"data":{"name":"f30"},"mark":{"type":"line","color":"#1fa3e6","strokeWidth":1.3},
 "encoding":{
  "x":{"field":"d","type":"temporal","scale":{"domain":[{"year":1971,"month":4,"date":1},{"year":2022,"month":6,"date":5}]},
   "axis":{"title":null,"values":[{"year":1974,"month":1,"date":1},{"year":1982,"month":1,"date":1},{"year":1990,"month":1,"date":1},{"year":1998,"month":1,"date":1},{"year":2006,"month":1,"date":1},{"year":2014,"month":1,"date":1},{"year":2022,"month":1,"date":1}],
   "format":"%Y","grid":false,"domainColor":"#ccd6eb","tickColor":"#ccd6eb","tickSize":9,"labelPadding":-2,"labelFont":"Liberation Sans","labelFontSize":11,"labelColor":"#666666","labelFlush":false,"labelOverlap":false}},
  "y":{"field":"v","type":"quantitative","scale":{"domain":[0,20],"nice":false},
   "axis":{"title":null,"values":[0,5,10,15,20],"labelExpr":"datum.value==20?'':format(datum.value,'.2f')+'%'","domain":false,"ticks":false,"grid":true,"gridColor":"#e6e6e6","labelFont":"Liberation Serif","labelFontSize":10,"labelColor":"#555555","labelPadding":13,"labelBaseline":"bottom"}}}},
{"data":{"name":"f15"},"mark":{"type":"line","color":"#78b444","strokeWidth":1.3},
 "encoding":{"x":{"field":"d","type":"temporal"},"y":{"field":"v","type":"quantitative"}}},
{"data":{"name":"arm"},"mark":{"type":"line","color":"#e0682a","strokeWidth":1.3},
 "encoding":{"x":{"field":"d","type":"temporal"},"y":{"field":"v","type":"quantitative"}}}
]
}
